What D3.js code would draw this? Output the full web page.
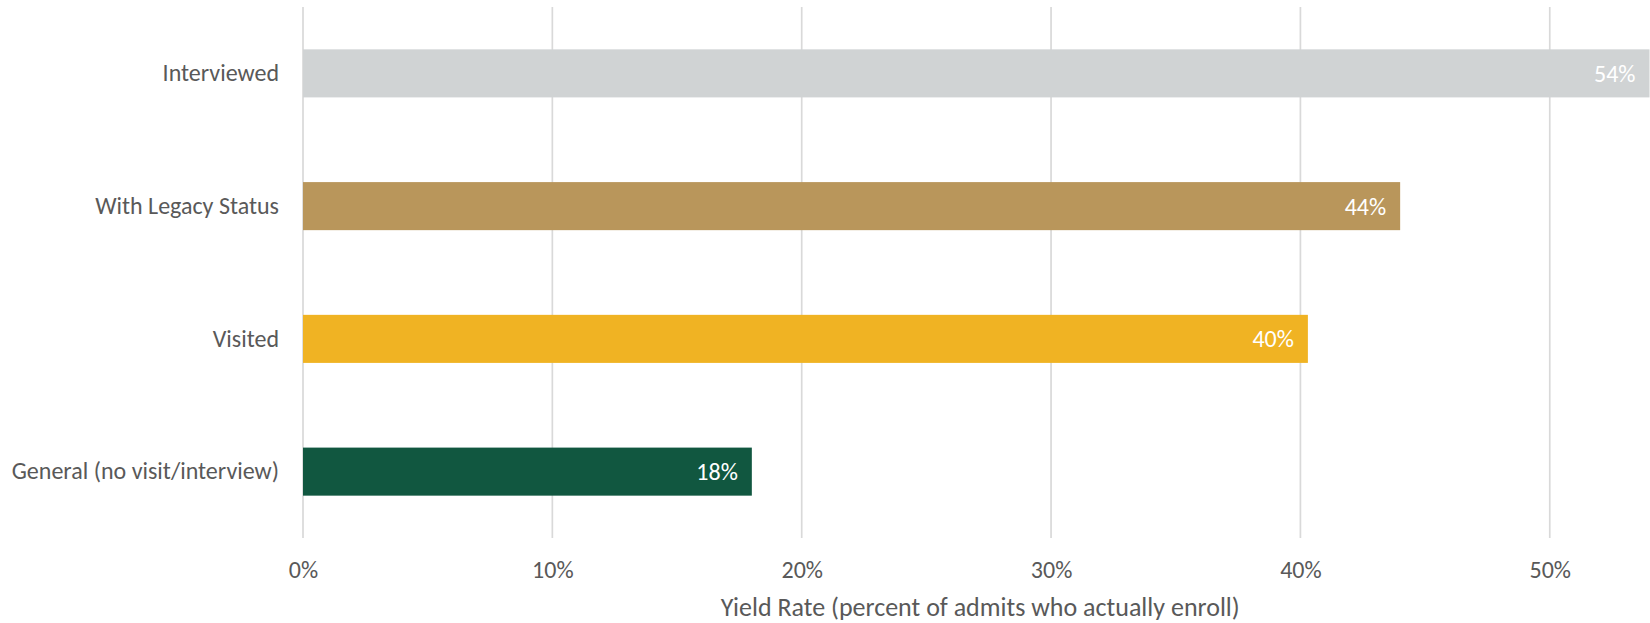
<!DOCTYPE html>
<html>
<head>
<meta charset="utf-8">
<script src="https://cdn.jsdelivr.net/npm/d3@7"></script>
<style>
  html, body { margin: 0; padding: 0; background: #ffffff; }
  svg { display: block; }
  text { font-family: Carlito, "Open Sans", sans-serif; }
</style>
</head>
<body>
<svg id="chart" width="1650" height="623"></svg>
<script>
// Yield rate by applicant group
const categories = ["Interviewed", "With Legacy Status", "Visited", "General (no visit/interview)"];
const yieldRates = [54, 44, 40.3, 18];
const barColors = ["#D0D3D4", "#B9965B", "#F0B323", "#115740"];
const xTicks = [0, 10, 20, 30, 40, 50];
const xTickLabels = ["0%", "10%", "20%", "30%", "40%", "50%"];
const axisTitle = "Yield Rate (percent of admits who actually enroll)";

const svg = d3.select("#chart");
const W = 1650, H = 623;
const plot = { left: 303, right: 1649.5, top: 7, bottom: 538 };
const textColor = "#595959";
const fontStack = "Carlito, 'Open Sans', sans-serif";

const x = d3.scaleLinear().domain([0, 54]).range([plot.left, plot.right]);
const y = d3.scaleBand().domain(categories).range([plot.top, plot.bottom])
  .paddingInner(0.638).paddingOuter(0.319);

// vertical gridlines
svg.append("g").selectAll("line").data(xTicks).join("line")
  .attr("x1", d => x(d)).attr("x2", d => x(d))
  .attr("y1", plot.top).attr("y2", plot.bottom)
  .attr("stroke", "#d9d9d9").attr("stroke-width", 1.7);

// x tick labels
const xAxis = d3.axisBottom(x).tickValues(xTicks)
  .tickFormat((d, i) => xTickLabels[i]).tickSize(0).tickPadding(0);
const gx = svg.append("g").attr("transform", `translate(0,${plot.bottom})`).call(xAxis);
gx.select(".domain").remove();
gx.selectAll("text")
  .attr("y", 32).attr("dy", "0.35em")
  .attr("fill", textColor).style("font-size", "24px")
  .style("font-family", fontStack);

// category labels
const yAxis = d3.axisLeft(y).tickSize(0).tickPadding(24);
const gy = svg.append("g").attr("transform", `translate(${plot.left},0)`).call(yAxis);
gy.select(".domain").remove();
gy.selectAll("text")
  .attr("fill", textColor).style("font-size", "24px")
  .style("font-family", fontStack);

// bars
const rows = categories.map((c, i) => ({ cat: c, value: yieldRates[i], color: barColors[i] }));
svg.append("g").selectAll("rect").data(rows).join("rect")
  .attr("x", x(0))
  .attr("y", d => y(d.cat))
  .attr("width", d => x(d.value) - x(0))
  .attr("height", y.bandwidth())
  .attr("fill", d => d.color);

// value labels, inside the bar end
svg.append("g").selectAll("text").data(rows).join("text")
  .attr("x", d => x(d.value) - 14)
  .attr("y", d => y(d.cat) + y.bandwidth() / 2)
  .attr("dy", "0.35em")
  .attr("text-anchor", "end")
  .attr("fill", "#ffffff")
  .style("font-size", "24px")
  .text(d => Math.round(d.value) + "%");

// axis title
svg.append("text")
  .attr("x", (plot.left + plot.right) / 2 + 4)
  .attr("y", 607)
  .attr("dy", "0.35em")
  .attr("text-anchor", "middle")
  .attr("fill", textColor)
  .style("font-size", "26px")
  .text(axisTitle);
</script>
</body>
</html>
